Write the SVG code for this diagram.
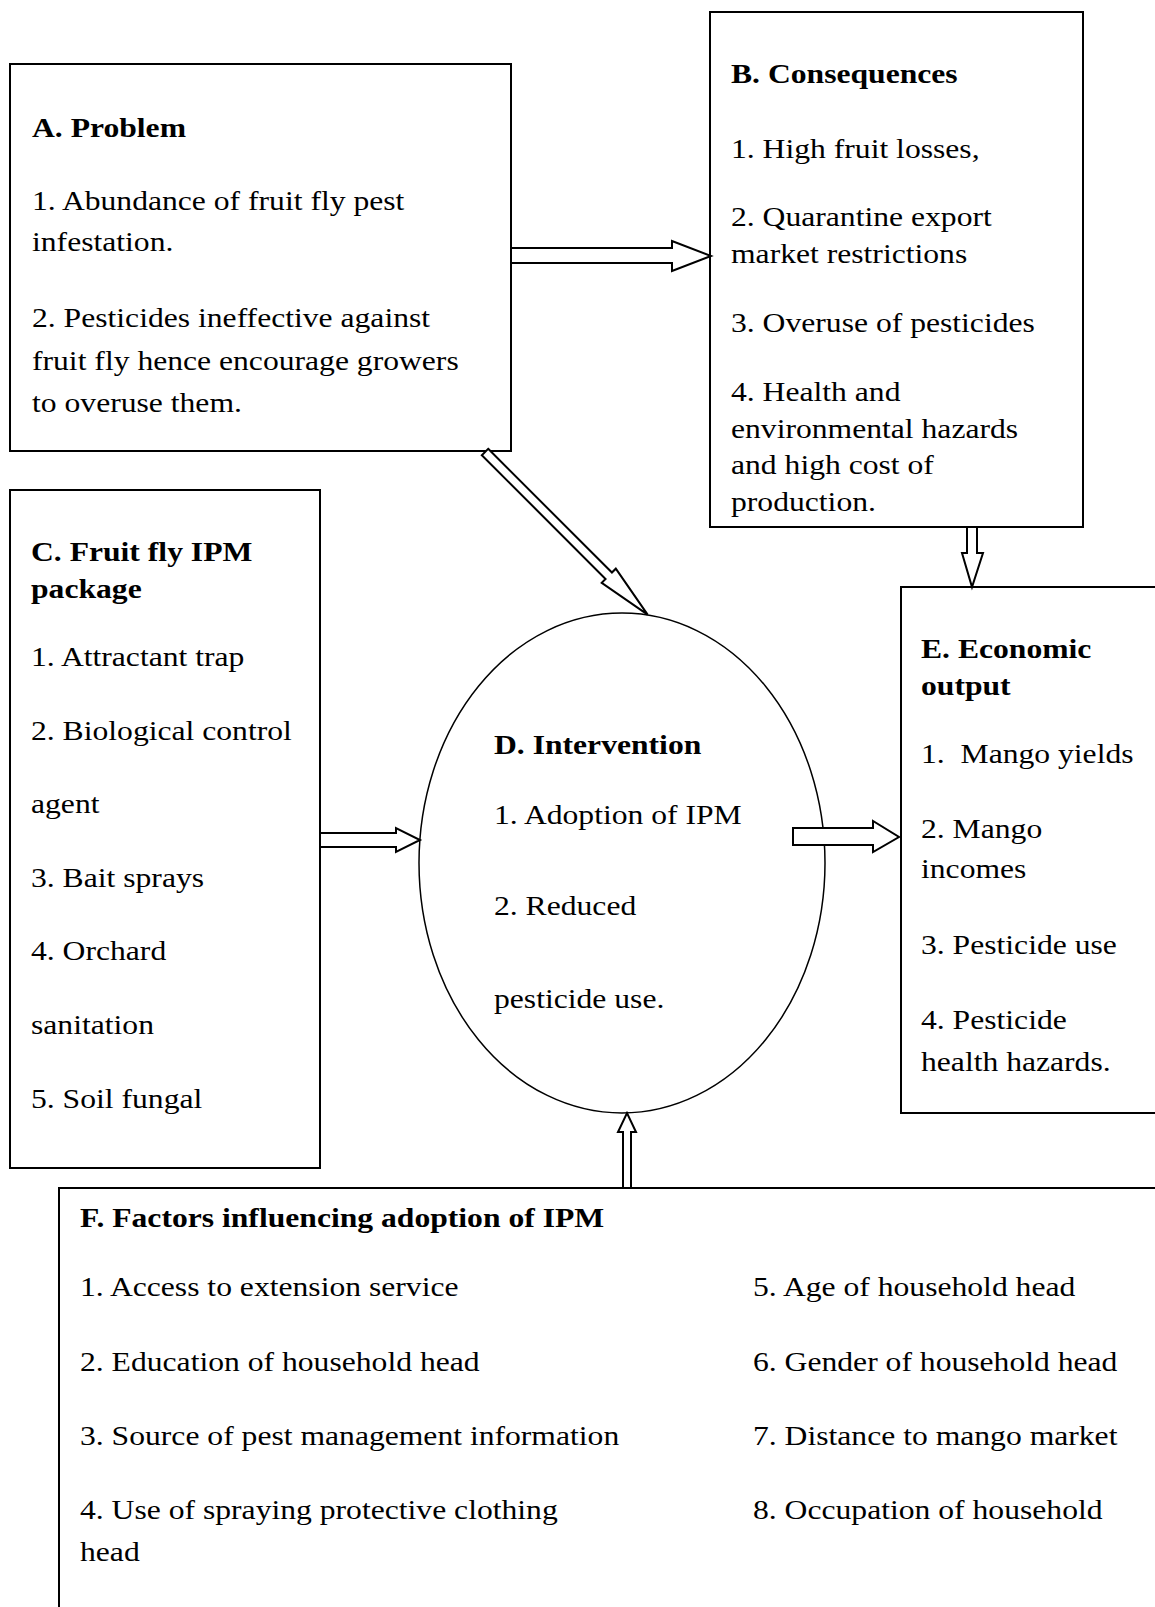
<svg xmlns="http://www.w3.org/2000/svg" width="1155" height="1607" viewBox="0 0 1155 1607">
<style>
.box{fill:#fff;stroke:#000;stroke-width:2}
.ell{fill:#fff;stroke:#000;stroke-width:1.5}
.arr{fill:#fff;stroke:#000;stroke-width:2;stroke-linejoin:miter}
text{font-family:"Liberation Serif","Times New Roman",serif;font-size:28px;fill:#000}
.b{font-weight:bold}
</style>
<rect width="1155" height="1607" fill="#fff"/>
<g id="nodeA">
<rect class="box" x="10" y="64" width="501" height="387"/>
<g transform="translate(32,0) scale(1.13,1)">
<text class="b" x="0" y="137">A. Problem</text>
<text x="0" y="210">1. Abundance of fruit fly pest</text>
<text x="0" y="251">infestation.</text>
<text x="0" y="327">2. Pesticides ineffective against</text>
<text x="0" y="370">fruit fly hence encourage growers</text>
<text x="0" y="412">to overuse them.</text>
</g>
</g>
<g id="nodeB">
<rect class="box" x="710" y="12" width="373" height="515"/>
<g transform="translate(731,0) scale(1.13,1)">
<text class="b" x="0" y="83">B. Consequences</text>
<text x="0" y="158">1. High fruit losses,</text>
<text x="0" y="226">2. Quarantine export</text>
<text x="0" y="263">market restrictions</text>
<text x="0" y="332">3. Overuse of pesticides</text>
<text x="0" y="401">4. Health and</text>
<text x="0" y="438">environmental hazards</text>
<text x="0" y="474">and high cost of</text>
<text x="0" y="511">production.</text>
</g>
</g>
<g id="nodeC">
<rect class="box" x="10" y="490" width="310" height="678"/>
<g transform="translate(31,0) scale(1.13,1)">
<text class="b" x="0" y="561">C. Fruit fly IPM</text>
<text class="b" x="0" y="598">package</text>
<text x="0" y="666">1. Attractant trap</text>
<text x="0" y="740">2. Biological control</text>
<text x="0" y="813">agent</text>
<text x="0" y="887">3. Bait sprays</text>
<text x="0" y="960">4. Orchard</text>
<text x="0" y="1034">sanitation</text>
<text x="0" y="1108">5. Soil fungal</text>
</g>
</g>
<g id="nodeD">
<ellipse class="ell" cx="622" cy="863" rx="203" ry="250"/>
<g transform="translate(494,0) scale(1.13,1)">
<text class="b" x="0" y="754">D. Intervention</text>
<text x="0" y="824">1. Adoption of IPM</text>
<text x="0" y="915">2. Reduced</text>
<text x="0" y="1008">pesticide use.</text>
</g>
</g>
<g id="nodeE">
<rect class="box" x="901" y="587" width="270" height="526"/>
<g transform="translate(921,0) scale(1.13,1)">
<text class="b" x="0" y="658">E. Economic</text>
<text class="b" x="0" y="695">output</text>
<text x="0" y="763" xml:space="preserve">1.  Mango yields</text>
<text x="0" y="838">2. Mango</text>
<text x="0" y="878">incomes</text>
<text x="0" y="954">3. Pesticide use</text>
<text x="0" y="1029">4. Pesticide</text>
<text x="0" y="1071">health hazards.</text>
</g>
</g>
<g id="nodeF">
<rect class="box" x="59" y="1188" width="1120" height="440"/>
<g transform="translate(80,0) scale(1.13,1)">
<text class="b" x="0" y="1227">F. Factors influencing adoption of IPM</text>
<text x="0" y="1296">1. Access to extension service</text>
<text x="0" y="1371">2. Education of household head</text>
<text x="0" y="1445">3. Source of pest management information</text>
<text x="0" y="1519">4. Use of spraying protective clothing</text>
<text x="0" y="1561">head</text>
</g>
<g transform="translate(753,0) scale(1.13,1)">
<text x="0" y="1296">5. Age of household head</text>
<text x="0" y="1371">6. Gender of household head</text>
<text x="0" y="1445">7. Distance to mango market</text>
<text x="0" y="1519">8. Occupation of household</text>
</g>
</g>
<g id="connectors">
<polygon class="arr" points="511,248 672,248 672,241 711,256 672,271 672,263 511,263"/>
<polygon class="arr" transform="translate(485,452) rotate(45)" points="0,-4.5 175,-4.5 175,-10 230,0 175,10 175,4.5 0,4.5"/>
<polygon class="arr" points="320,833 396,833 396,828 420,840 396,852 396,847 320,847"/>
<polygon class="arr" points="793,828 873,828 873,821 899,837 873,852 873,845 793,845"/>
<polygon class="arr" points="967,527 967,553 962,553 972,587 983,553 977,553 977,527"/>
<polygon class="arr" points="623,1188 623,1132 618,1132 627,1113 636,1132 631,1132 631,1188"/>
</g>
</svg>
